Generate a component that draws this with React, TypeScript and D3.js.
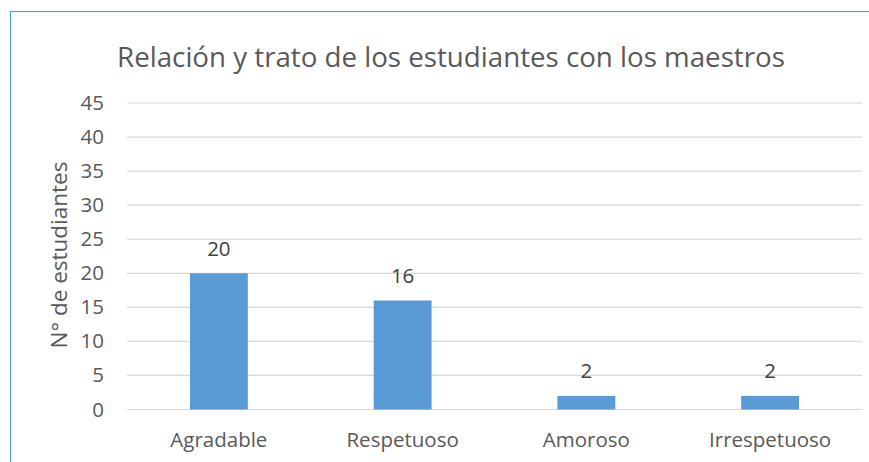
import React from "react";
import * as d3 from "d3";

const categories = ["Agradable", "Respetuoso", "Amoroso", "Irrespetuoso"];
const values = [20, 16, 2, 2];
const yTicks = [0, 5, 10, 15, 20, 25, 30, 35, 40, 45];
const title = "Relación y trato de los estudiantes con los maestros";
const yTitle = "N° de estudiantes";

export default function App() {
  const W = 869, H = 462;
  const left = 127, right = 862, top = 103, bottom = 409.5;
  const x = d3.scaleBand<string>().domain(categories).range([left, right]).paddingInner(0.685).paddingOuter(0.3425);
  const y = d3.scaleLinear().domain([0, 45]).range([bottom, top]);
  const font = "'Open Sans', 'Noto Sans', sans-serif";
  return (
    <svg width={W} height={H} style={{ position: "absolute", left: 0, top: 0, display: "block" }}>
      <rect x={0} y={0} width={W} height={H} fill="#fff" />
      <rect x={10.5} y={11.5} width={W + 20} height={H + 20} fill="#fff" stroke="#5B9BD5" strokeWidth={1.2} />
      <text x={451} y={67} textAnchor="middle" fontFamily={font} fontSize={27.7} fill="#595959">{title}</text>
      {yTicks.map((t) => (
        <g key={t}>
          <line x1={left} x2={right} y1={y(t)} y2={y(t)} stroke="#D9D9D9" strokeWidth={1.2} />
          <text x={104} y={y(t) + 7} textAnchor="end" fontFamily={font} fontSize={20.5} fill="#595959">{t}</text>
        </g>
      ))}
      <text transform={`translate(67,255) rotate(-90)`} textAnchor="middle" fontFamily={font} fontSize={22.5} fill="#595959">{yTitle}</text>
      {categories.map((c, i) => (
        <g key={c}>
          <rect x={x(c)} y={y(values[i])} width={x.bandwidth()} height={bottom - y(values[i])} fill="#5B9BD5" />
          <text x={(x(c) as number) + x.bandwidth() / 2} y={y(values[i]) - 17.6} textAnchor="middle" fontFamily={font} fontSize={20.5} fill="#404040">{values[i]}</text>
          <text x={(x(c) as number) + x.bandwidth() / 2} y={446.7} textAnchor="middle" fontFamily={font} fontSize={20.5} fill="#595959">{c}</text>
        </g>
      ))}
    </svg>
  );
}
